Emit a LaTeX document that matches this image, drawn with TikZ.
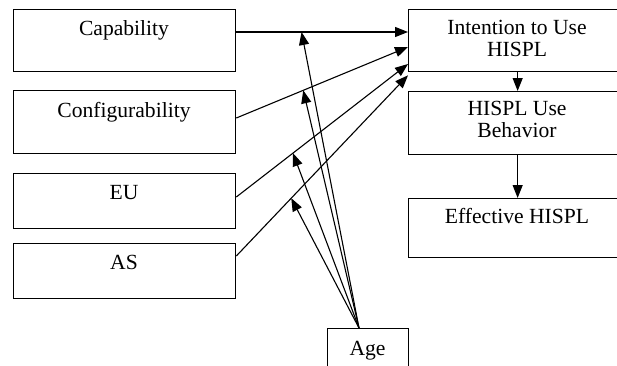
\documentclass[tikz,border=0pt]{standalone}
\usepackage{fontspec}
\setmainfont{TeX Gyre Heros}
\newfontfamily\serifx{Liberation Serif}[Scale=1.0]
\usetikzlibrary{arrows.meta,calc}
\begin{document}
\begin{tikzpicture}[x=1pt,y=-1pt,
 box/.style={draw, line width=1.3pt, rectangle, inner sep=0pt, anchor=north west},
 txt/.style={anchor=base, inner sep=0pt, font=\serifx\fontsize{21.6pt}{22pt}\selectfont},
 arr/.style={line width=1.1pt, -{Triangle[length=13pt,width=10pt]}}]
\useasboundingbox (0,0) rectangle (617,365);
\begin{scope}
\clip (0,0) rectangle (617,365);
% left boxes
\node[box, minimum width=222pt, minimum height=62pt] (cap) at (13,9) {};
\node[box, minimum width=222pt, minimum height=63pt] (conf) at (13,90) {};
\node[box, minimum width=222pt, minimum height=55pt] (eu) at (13,173) {};
\node[box, minimum width=222pt, minimum height=55pt] (as) at (13,243) {};
\node[txt] (capT) at (124,35) {Capability};
\node[txt] (confT) at (124,117) {Configurability};
\node[txt] (euT) at (124,199) {EU};
\node[txt] (asT) at (124,269) {AS};
% right boxes
\node[box, minimum width=218pt, minimum height=62pt] (int) at (408,9) {};
\node[box, minimum width=218pt, minimum height=63pt] (beh) at (408,91) {};
\node[box, minimum width=218pt, minimum height=59pt] (eff) at (408,198) {};
\node[txt] (intT1) at (517,34) {Intention to Use};
\node[txt] (intT2) at (517,56) {HISPL};
\node[txt] (behT1) at (517,115) {HISPL Use};
\node[txt] (behT2) at (517,137) {Behavior};
\node[txt] (effT) at (517,223) {Effective HISPL};
% age
\node[box, minimum width=81pt, minimum height=45pt] (age) at (327,328) {};
\node[txt] (ageT) at (367.5,355) {Age};
% connector coordinates
\coordinate (capS) at ($(cap.north east)+(0,23)$);
\coordinate (intA) at ($(int.north west)+(0,23)$);
\coordinate (confS) at ($(conf.north east)+(0,28)$);
\coordinate (intB) at ($(int.north west)+(0,38)$);
\coordinate (euS) at ($(eu.north east)+(0,24)$);
\coordinate (intC) at ($(int.north west)+(0,55)$);
\coordinate (asS) at ($(as.north east)+(0,13)$);
\coordinate (intD) at ($(int.south west)+(0,3)$);
\coordinate (ageS) at ($(age.north west)+(32,0)$);
% main arrows
\draw[arr] (capS) -- (intA);
\draw[arr] (confS) -- (intB);
\draw[arr] (euS) -- (intC);
\draw[arr] (asS) -- (intD);
\draw[arr] (int.south) -- (beh.north);
\draw[arr] (beh.south) -- (eff.north);
% moderator arrows
\draw[arr] (ageS) -- ($(capS)!0.38!(intA)$);
\draw[arr] (ageS) -- ($(confS)!0.39!(intB)$);
\draw[arr] (ageS) -- ($(euS)!0.33!(intC)$);
\draw[arr] (ageS) -- ($(asS)!0.32!(intD)$);
\end{scope}
\end{tikzpicture}
\end{document}
